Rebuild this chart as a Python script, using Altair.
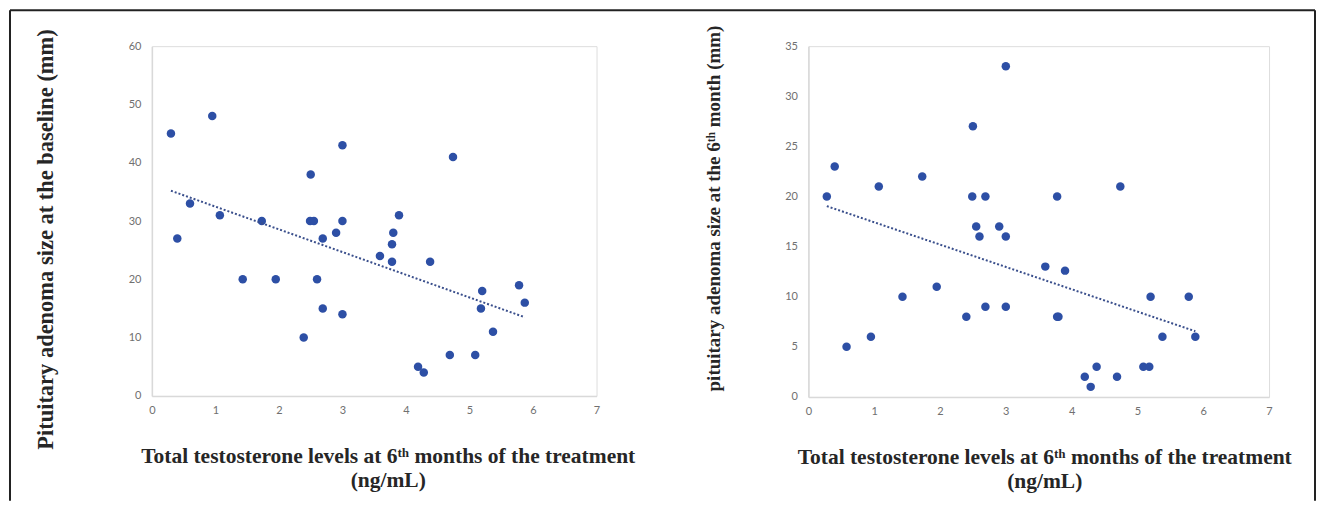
import altair as alt
import pandas as pd

# Left panel: baseline adenoma size vs 6th-month total testosterone
x_base = [0.3, 0.4, 0.6, 0.95, 1.07, 1.43, 1.73, 1.95, 2.39, 2.49, 2.5, 2.55, 2.6,
          2.69, 2.69, 2.9, 3.0, 3.0, 3.0, 3.59, 3.78, 3.78, 3.8, 3.89, 4.19, 4.28,
          4.38, 4.69, 4.74, 5.09, 5.18, 5.2, 5.37, 5.78, 5.87]
y_base = [45, 27, 33, 48, 31, 20, 30, 20, 10, 30, 38, 30, 20,
          27, 15, 28, 43, 30, 14, 24, 26, 23, 28, 31, 5, 4,
          23, 7, 41, 7, 15, 18, 11, 19, 16]

# Right panel: 6th-month adenoma size vs 6th-month total testosterone
x_6m = [0.28, 0.4, 0.58, 0.95, 1.07, 1.43, 1.73, 1.95, 2.4, 2.49, 2.5, 2.55, 2.6,
        2.69, 2.69, 2.9, 3.0, 3.0, 3.0, 3.6, 3.78, 3.78, 3.8, 3.9, 4.2, 4.29,
        4.38, 4.69, 4.74, 5.09, 5.18, 5.2, 5.38, 5.78, 5.88]
y_6m = [20, 23, 5, 6, 21, 10, 22, 11, 8, 20, 27, 17, 16,
        20, 9, 17, 33, 16, 9, 13, 20, 8, 8, 12.6, 2, 1,
        3, 2, 21, 3, 3, 10, 6, 10, 6]

x_ticks = [0, 1, 2, 3, 4, 5, 6, 7]
y_ticks_base = [0, 10, 20, 30, 40, 50, 60]
y_ticks_6m = [0, 5, 10, 15, 20, 25, 30, 35]

x_title = ["Total testosterone levels at 6\u1d57\u02b0 months of the treatment", "(ng/mL)"]
y_title_base = "Pituitary adenoma size at the baseline (mm)"
y_title_6m = "pituitary adenoma size at the 6\u1d57\u02b0 month (mm)"

POINT = "#2d4fa5"
TREND = "#3a4f8c"
SERIF = "Liberation Serif"
TICKFONT = "Lato"


def panel(xs, ys, yticks, ytitle, width, height, ytx, yty, ytsize, frame=False):
    df = pd.DataFrame({"x": xs, "y": ys})
    base = alt.Chart(df)
    xenc = alt.X(
        "x:Q",
        scale=alt.Scale(domain=[x_ticks[0], x_ticks[-1]], nice=False, zero=False),
        axis=alt.Axis(
            values=x_ticks, title=x_title, grid=False, ticks=False, format="d",
            labelFlush=False,
            domainColor="#d9d9d9", domainWidth=1.5,
            labelColor="#707070", labelFont=TICKFONT, labelFontSize=11, labelPadding=9,
            titleFont=SERIF, titleFontSize=21.5, titleFontWeight="bold", titleColor="#262626",
            titleX=236, titleY=50, titleAlign="center", titleBaseline="top",
            titleLineHeight=24,
        ),
    )
    yenc = alt.Y(
        "y:Q",
        scale=alt.Scale(domain=[yticks[0], yticks[-1]], nice=False),
        axis=alt.Axis(
            values=yticks, title=ytitle, grid=False, ticks=False, format="d",
            labelFlush=False,
            domainColor="#d9d9d9", domainWidth=1.5,
            labelColor="#707070", labelFont=TICKFONT, labelFontSize=11, labelPadding=11,
            titleFont=SERIF, titleFontSize=ytsize, titleFontWeight="bold", titleColor="#262626",
            titleX=ytx, titleY=yty, titleAlign="center", titleBaseline="middle",
        ),
    )
    pts = base.mark_circle(size=72, color=POINT, opacity=1).encode(x=xenc, y=yenc)
    trend = base.transform_regression("x", "y").mark_line(
        color=TREND, strokeWidth=2, strokeDash=[2, 2]
    ).encode(x="x:Q", y="y:Q")
    layers = [pts, trend]
    if frame:
        one = alt.Chart(alt.Data(values=[{"k": 0}]))
        top = one.mark_rule(color="#222222", strokeWidth=2).encode(
            x=alt.value(-142), x2=alt.value(1164), y=alt.value(-36))
        left = one.mark_rule(color="#222222", strokeWidth=2).encode(
            x=alt.value(-142), y=alt.value(-36), y2=alt.value(455))
        right = one.mark_rule(color="#222222", strokeWidth=2).encode(
            x=alt.value(1164), y=alt.value(-36), y2=alt.value(455))
        layers += [top, left, right]
    return alt.layer(*layers).properties(width=width, height=height)


left_chart = panel(x_base, y_base, y_ticks_base, y_title_base, 445, 350, -106, 193, 22.5, frame=True)
right_chart = panel(x_6m, y_6m, y_ticks_6m, y_title_6m, 461, 351, -95, 162, 19)

chart = alt.hconcat(left_chart, right_chart, spacing=212, bounds="flush").properties(
    padding=0
).configure_view(stroke=None).configure(background="white")

chart.save("out.html", embed_options={"renderer": "svg", "actions": False})
